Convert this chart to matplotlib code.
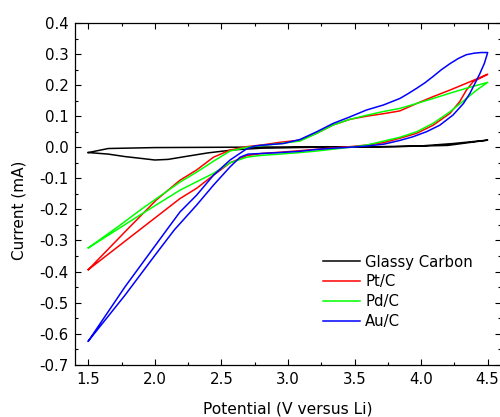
import matplotlib
matplotlib.use('Agg')
import matplotlib.pyplot as plt
import numpy as np
from matplotlib.ticker import MultipleLocator, FormatStrFormatter

plt.rcParams['font.family'] = ['DejaVu Sans']
plt.rcParams['axes.unicode_minus'] = False

# ---- data (loop: lower branch 1.5->4.5, then upper 4.5->1.5)
gc_x = [1.5, 1.65, 1.776, 1.9, 2.0, 2.1, 2.226, 2.4, 2.6, 2.8, 3.2, 3.6, 3.99, 4.24, 4.5,
        4.2, 3.8, 3.0, 2.5, 2.0, 1.65, 1.5]
gc_y = [-0.017, -0.022, -0.030, -0.036, -0.041, -0.039, -0.030, -0.018, -0.008, -0.003, 0.0, 0.001, 0.004, 0.012, 0.023,
        0.006, 0.002, 0.001, 0.0, -0.001, -0.004, -0.017]

pt_x = [1.5, 1.888, 2.189, 2.314, 2.44, 2.565, 2.69, 2.8, 2.94, 3.09, 3.34, 3.466, 3.59, 3.72, 3.84, 3.967,
        4.09, 4.216, 4.29, 4.34, 4.39, 4.5,
        4.34, 4.216, 4.09, 3.967, 3.84, 3.716, 3.59, 3.466, 3.34, 3.216, 3.09, 2.94, 2.815, 2.69, 2.565,
        2.44, 2.314, 2.189, 2.01, 1.776, 1.5]
pt_y = [-0.394, -0.265, -0.165, -0.132, -0.090, -0.050, -0.027, -0.020, -0.016, -0.011, -0.002, 0.002, 0.007, 0.015, 0.029, 0.045,
        0.071, 0.109, 0.147, 0.184, 0.211, 0.235,
        0.206, 0.184, 0.163, 0.141, 0.117, 0.108, 0.100, 0.090, 0.072, 0.045, 0.023, 0.016, 0.008, 0.002, -0.009,
        -0.032, -0.073, -0.106, -0.170, -0.272, -0.394]

pd_x = [1.5, 1.9, 2.189, 2.314, 2.44, 2.565, 2.69, 2.8, 2.94, 3.09, 3.216, 3.34, 3.466, 3.59, 3.72, 3.84, 3.967,
        4.09, 4.216, 4.34, 4.417, 4.5,
        4.34, 4.216, 4.09, 3.967, 3.84, 3.716, 3.59, 3.466, 3.34, 3.216, 3.09, 2.94, 2.815, 2.69, 2.565,
        2.44, 2.314, 2.189, 1.9, 1.725, 1.5]
pd_y = [-0.324, -0.215, -0.138, -0.111, -0.084, -0.050, -0.032, -0.026, -0.022, -0.017, -0.012, -0.006, 0.0, 0.007, 0.020, 0.032, 0.050,
        0.077, 0.114, 0.157, 0.184, 0.209,
        0.190, 0.174, 0.157, 0.141, 0.125, 0.115, 0.103, 0.090, 0.072, 0.045, 0.020, 0.012, 0.006, 0.0, -0.012,
        -0.045, -0.080, -0.112, -0.199, -0.255, -0.324]

au_x = [1.5, 1.776, 2.0, 2.146, 2.314, 2.44, 2.565, 2.64, 2.70, 2.80, 2.94, 3.09, 3.216, 3.34, 3.466, 3.59, 3.72,
        3.84, 3.94, 4.04, 4.14, 4.24, 4.318, 4.367, 4.405, 4.44, 4.475, 4.5,
        4.45, 4.40, 4.34, 4.28, 4.216, 4.15, 4.09, 4.03, 3.967, 3.90, 3.84, 3.716, 3.59, 3.466, 3.34, 3.216,
        3.09, 2.965, 2.815, 2.75, 2.69, 2.565, 2.44, 2.314, 2.189, 2.089, 1.776, 1.5]
au_y = [-0.624, -0.476, -0.348, -0.266, -0.186, -0.122, -0.063, -0.032, -0.022, -0.020, -0.017, -0.013, -0.007, -0.003, 0.0, 0.004, 0.010,
        0.022, 0.034, 0.050, 0.071, 0.104, 0.141, 0.174, 0.206, 0.236, 0.270, 0.305,
        0.305, 0.303, 0.298, 0.286, 0.269, 0.249, 0.228, 0.208, 0.190, 0.172, 0.157, 0.136, 0.120, 0.098, 0.077, 0.050,
        0.025, 0.012, 0.007, 0.004, -0.005, -0.041, -0.090, -0.154, -0.208, -0.266, -0.449, -0.624]

labels = ['Glassy Carbon', 'Pt/C', 'Pd/C', 'Au/C']
colors = ['#000000', '#ff0000', '#00ff00', '#0000ff']

fig = plt.figure(figsize=(5.0, 4.17), dpi=100)
ax = fig.add_axes([0.15, 0.1254, 0.852, 0.8194])

for xs, ys, lab, c in zip([gc_x, pt_x, pd_x, au_x], [gc_y, pt_y, pd_y, au_y], labels, colors):
    ax.plot(xs, ys, color=c, lw=1.1, label=lab)

ax.set_xlim(1.4, 4.6)
ax.set_ylim(-0.7, 0.4)
ax.xaxis.set_major_locator(MultipleLocator(0.5))
ax.xaxis.set_minor_locator(MultipleLocator(0.25))
ax.yaxis.set_major_locator(MultipleLocator(0.1))
ax.yaxis.set_minor_locator(MultipleLocator(0.05))
ax.xaxis.set_major_formatter(FormatStrFormatter('%.1f'))
ax.yaxis.set_major_formatter(FormatStrFormatter('%.1f'))
ax.tick_params(which='both', direction='in', top=True, right=True, width=0.8, labelsize=10.8)
ax.tick_params(which='major', length=4.5)
ax.tick_params(which='minor', length=2.5)
ax.tick_params(axis='x', pad=5)
ax.tick_params(axis='y', pad=4.5)
for s in ax.spines.values():
    s.set_linewidth(0.9)

ax.set_xlabel('Potential (V versus Li)', fontsize=11.2)
ax.set_ylabel('Current (mA)', fontsize=11)
ax.xaxis.set_label_coords(0.5, -0.108)
ax.yaxis.set_label_coords(-0.115, 0.453)

leg = ax.legend(loc='upper left', bbox_to_anchor=(0.582, 0.322), frameon=False, fontsize=10.7,
                borderpad=0, handlelength=2.5, handletextpad=0.34, labelspacing=0.32, borderaxespad=0)

plt.savefig('out.png', dpi=100)
plt.close()
